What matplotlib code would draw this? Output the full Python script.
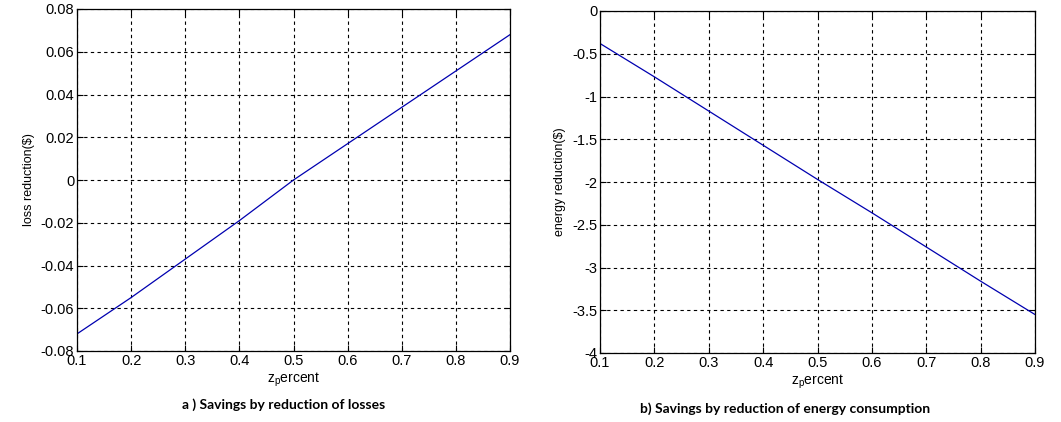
import matplotlib
matplotlib.use('Agg')
from matplotlib import pyplot as plt

# values
z = [0.1, 0.2, 0.3, 0.4, 0.5, 0.6, 0.7, 0.8, 0.9]
loss_red = [-0.072, -0.055, -0.037, -0.019, 0.000, 0.017, 0.034, 0.051, 0.068]
energy_red = [-0.38, -0.77, -1.17, -1.57, -1.97, -2.36, -2.76, -3.16, -3.55]

loss_ticks = [-0.08, -0.06, -0.04, -0.02, 0, 0.02, 0.04, 0.06, 0.08]
loss_ticklabels = ['-0.08', '-0.06', '-0.04', '-0.02', '0', '0.02', '0.04', '0.06', '0.08']
energy_ticks = [-4, -3.5, -3, -2.5, -2, -1.5, -1, -0.5, 0]
energy_ticklabels = ['-4', '-3.5', '-3', '-2.5', '-2', '-1.5', '-1', '-0.5', '0']
z_ticklabels = ['0.1', '0.2', '0.3', '0.4', '0.5', '0.6', '0.7', '0.8', '0.9']

plt.rcParams['font.family'] = ['Liberation Sans', 'DejaVu Sans']
plt.rcParams['mathtext.fontset'] = 'custom'
plt.rcParams['mathtext.rm'] = 'Liberation Sans'

fig = plt.figure(figsize=(10.61, 4.22), dpi=100)
ax1 = fig.add_axes([77/1061, 71/422, 433/1061, 342/422])
ax2 = fig.add_axes([600/1061, 69/422, 435/1061, 342/422])

def style(ax, y, yt, ytl, ylab):
  ax.plot(z, y, '-', color='#0000b0', lw=0.9)
  ax.set_xlim(0.1, 0.9)
  ax.set_ylim(yt[0], yt[-1])
  ax.set_xticks(z)
  ax.set_xticklabels(z_ticklabels)
  ax.set_yticks(yt)
  ax.set_yticklabels(ytl)
  ax.grid(True, color='black', linestyle=(0, (3, 3)), lw=0.8)
  ax.tick_params(direction='in', top=True, right=True, labelsize=10.5, length=4, pad=2)
  ax.set_xlabel('z$_\\mathregular{p}$ercent', fontsize=10, labelpad=2)
  ax.set_ylabel(ylab, fontsize=9, labelpad=4)
  for s in ax.spines.values():
    s.set_linewidth(0.9)

style(ax1, loss_red, loss_ticks, loss_ticklabels, 'loss reduction($)')
style(ax2, energy_red, energy_ticks, energy_ticklabels, 'energy reduction($)')

fig.text(284/1061, 1 - 405/422, 'a ) Savings by reduction of losses', ha='center', va='center',
         fontsize=10, fontweight='bold', family=['Lato', 'DejaVu Sans'])
fig.text(785/1061, 1 - 409/422, 'b) Savings by reduction of energy consumption', ha='center', va='center',
         fontsize=10, fontweight='bold', family=['Lato', 'DejaVu Sans'])

fig.savefig('out.png', dpi=100)
